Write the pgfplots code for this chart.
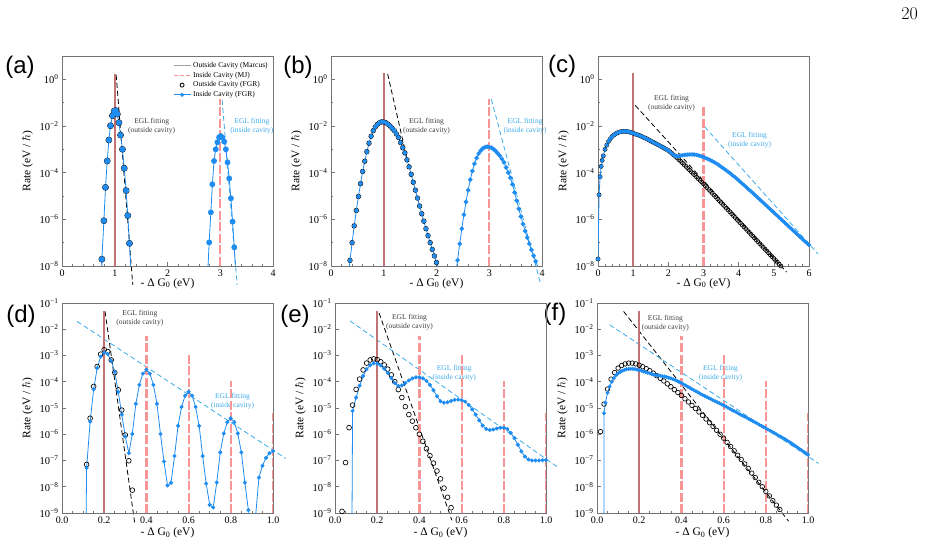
\documentclass[border=0pt]{standalone}
\usepackage{fontspec}
\newfontfamily\tnr{Liberation Serif}
\newfontfamily\hv{Liberation Sans}
\usepackage{pgfplots}
\pgfplotsset{compat=1.18}
\definecolor{fgrblue}{RGB}{30,140,240}
\definecolor{eglblue}{RGB}{60,170,235}
\definecolor{mjpink}{RGB}{248,150,150}
\definecolor{marcusgray}{RGB}{160,160,160}
\definecolor{spikered}{RGB}{195,115,115}
\definecolor{framegray}{RGB}{115,115,115}
\definecolor{txtgray}{RGB}{60,60,60}
\tikzset{
 lblk/.style={align=center, font=\tnr\fontsize{7.5}{8.6}\selectfont, text=txtgray, inner sep=0pt},
 lblb/.style={align=center, font=\tnr\fontsize{7.5}{8.6}\selectfont, text=eglblue, inner sep=0pt},
}
\pgfplotsset{
 panel/.style={scale only axis, width=211pt, height=210pt,
   axis line style={framegray, line width=0.8pt},
   tick style={framegray, line width=0.6pt},
   tick align=inside, xtick pos=bottom, ytick pos=left,
   major tick length=3.5pt, minor tick length=2pt,
   yticklabel style={font=\tnr\fontsize{10.5}{11}\selectfont},
   xticklabel style={font=\tnr\fontsize{10}{11}\selectfont},
   xlabel={- Δ G\textsubscript{0} (eV)},
   ylabel={Rate (eV / $\hbar$)},
   label style={font=\tnr\fontsize{11.5}{12}\selectfont},
 },
 toprow/.style={panel, ymin=-8, ymax=1, ytick={-8,-6,-4,-2,0}, minor ytick={-7,-5,-3,-1},
   yticklabels={10\textsuperscript{−8},10\textsuperscript{−6},10\textsuperscript{−4},10\textsuperscript{−2},10\textsuperscript{0}},
   minor x tick num=4, xlabel style={yshift=5pt}},
 botrow/.style={panel, xmin=0, xmax=1, ymin=-9, ymax=-1, ytick={-9,-8,-7,-6,-5,-4,-3,-2,-1},
   yticklabels={10\textsuperscript{−9},10\textsuperscript{−8},10\textsuperscript{−7},10\textsuperscript{−6},10\textsuperscript{−5},10\textsuperscript{−4},10\textsuperscript{−3},10\textsuperscript{−2},10\textsuperscript{−1}},
   xtick={0,0.2,0.4,0.6,0.8,1}, xticklabels={0.0,0.2,0.4,0.6,0.8,1.0}, minor x tick num=3,
   xlabel style={yshift=2.5pt}},
 over/.style={scale only axis, width=211pt, height=210pt, hide axis, clip=false},
 outfgr/.style={only marks, mark=o, mark size=#1, mark options={line width=0.65pt, draw=black}},
 infgr/.style={color=fgrblue, line width=0.8pt, mark=*, mark size=#1, mark options={fill=fgrblue, draw=fgrblue}},
 spike/.style={color=spikered, line width=2pt},
 mj/.style={color=mjpink, line width=2.2pt, dash pattern=on 9pt off 2.5pt},
 eglk/.style={black, line width=0.8pt, dash pattern=on 5pt off 3pt},
 eglb/.style={eglblue, line width=0.8pt, dash pattern=on 5pt off 3pt},
}
\begin{document}
\begin{tikzpicture}
\path[use as bounding box] (0pt,0pt) rectangle (926pt,-544pt);
\node[font=\fontsize{18}{18}\selectfont] at (909.5pt,-13.3pt) {20};
\node[font=\hv\fontsize{24}{24}\selectfont] at (20pt,-67pt) {(a)};
\node[font=\hv\fontsize{24}{24}\selectfont] at (298pt,-67pt) {(b)};
\node[font=\hv\fontsize{24}{24}\selectfont] at (562pt,-66pt) {(c)};
\node[font=\hv\fontsize{24}{24}\selectfont] at (21pt,-316pt) {(d)};
\node[font=\hv\fontsize{24}{24}\selectfont] at (295pt,-316pt) {(e)};
\node[font=\hv\fontsize{24}{24}\selectfont] at (555pt,-314pt) {(f)};

% ---------------- (a) ----------------
\begin{axis}[over, at={(62pt,-56pt)}, anchor=north west, xmin=0, xmax=4, ymin=-8, ymax=1]
\addplot[eglk] coordinates {(1.027,0.19)(1.342,-8.81)};
\addplot[eglb] coordinates {(3.036,-0.886)(3.32,-8.81)};
\node[lblk] at (axis cs:1.70,-2.0) {EGL fitting\\(outside cavity)};
\node[lblb] at (axis cs:3.60,-2.0) {EGL fitting\\(inside cavity)};
\end{axis}
\begin{axis}[toprow, at={(62pt,-56pt)}, anchor=north west, xmin=0, xmax=4, xtick={0,1,2,3,4}, xticklabels={0,1,2,3,4},
  legend style={at={(0.99,0.985)}, anchor=north east, draw=none, fill=none, font=\tnr\fontsize{7.5}{8}\selectfont, row sep=-1pt, inner sep=1pt},
  legend cell align=left]
\addlegendimage{color=marcusgray, line width=1pt}
\addlegendimage{color=mjpink, line width=1pt, dash pattern=on 4pt off 2pt}
\addlegendimage{only marks, mark=o, mark size=2pt, mark options={line width=0.8pt, draw=black}}
\addlegendimage{color=fgrblue, line width=0.8pt, mark=*, mark size=1.6pt, mark options={fill=fgrblue, draw=fgrblue}}
\legend{Outside Cavity (Marcus), Inside Cavity (MJ), Outside Cavity (FGR), Inside Cavity (FGR)}
\addplot[spike] coordinates {(1,-8)(1,0.21)};
\addplot[mj] coordinates {(3,-8)(3,-0.86)};
\addplot[outfgr=3pt] coordinates {(0.756,-7.71)(0.794,-6.06)(0.825,-4.63)(0.857,-3.5)(0.888,-2.6)(0.920,-1.99)(0.957,-1.56)(0.989,-1.36)(1.020,-1.34)(1.050,-1.49)(1.080,-1.86)(1.110,-2.39)(1.146,-3.0)(1.180,-3.81)(1.216,-4.77)(1.247,-5.84)(1.280,-7.03)};
\addplot[infgr=2.5pt] coordinates {(0.724,-30)(0.756,-7.71)(0.794,-6.06)(0.825,-4.63)(0.857,-3.5)(0.888,-2.6)(0.920,-1.99)(0.957,-1.56)(0.989,-1.36)(1.020,-1.34)(1.050,-1.49)(1.080,-1.86)(1.110,-2.39)(1.146,-3.0)(1.180,-3.81)(1.216,-4.77)(1.247,-5.84)(1.280,-7.03)(1.312,-8.6)(1.344,-12)(2.726,-12)(2.758,-8.5)(2.79,-6.99)(2.822,-5.7)(2.85,-4.5)(2.882,-3.5)(2.914,-3.0)(2.946,-2.7)(2.978,-2.49)(3.01,-2.43)(3.042,-2.5)(3.074,-2.67)(3.106,-3.0)(3.138,-3.56)(3.17,-4.25)(3.202,-5.1)(3.234,-6.1)(3.266,-7.2)(3.298,-8.5)(3.33,-12)};
\end{axis}

% ---------------- (b) ----------------
\begin{axis}[over, at={(331pt,-56pt)}, anchor=north west, xmin=0, xmax=4, ymin=-8, ymax=1]
\addplot[eglk] coordinates {(1.074,0.23)(1.44,-3.4)};
\addplot[eglb] coordinates {(3.04,-0.857)(3.97,-8.74)};
\node[lblk] at (axis cs:1.81,-2.0) {EGL fitting\\(outside cavity)};
\node[lblb] at (axis cs:3.68,-2.0) {EGL fitting\\(inside cavity)};
\end{axis}
\begin{axis}[toprow, at={(331pt,-56pt)}, anchor=north west, xmin=0, xmax=4, xtick={0,1,2,3,4}, xticklabels={0,1,2,3,4}]
\addplot[spike] coordinates {(1,-8)(1,0.26)};
\addplot[mj] coordinates {(3,-8)(3,-0.86)};
\addplot[outfgr=2.3pt] coordinates {(0.36,-7.76)(0.40,-7.0)(0.44,-6.28)(0.48,-5.62)(0.52,-5.02)(0.56,-4.47)(0.60,-3.95)(0.64,-3.51)(0.68,-3.1)(0.72,-2.74)(0.76,-2.44)(0.80,-2.2)(0.84,-2.04)(0.88,-1.93)(0.92,-1.86)(0.96,-1.82)(1.00,-1.83)(1.04,-1.86)(1.08,-1.92)(1.12,-2.0)(1.16,-2.1)(1.20,-2.2)(1.24,-2.34)(1.28,-2.49)(1.32,-2.71)(1.36,-2.93)(1.40,-3.15)(1.44,-3.45)(1.48,-3.75)(1.52,-4.07)(1.56,-4.41)(1.60,-4.75)(1.64,-5.09)(1.68,-5.43)(1.72,-5.76)(1.76,-6.08)(1.80,-6.4)(1.84,-6.7)(1.88,-7.0)(1.92,-7.29)(1.96,-7.57)(2.00,-7.85)(2.04,-8.1)};
\addplot[infgr=1.9pt] coordinates {(0.32,-8.7)(0.36,-7.76)(0.40,-7.0)(0.44,-6.28)(0.48,-5.62)(0.52,-5.02)(0.56,-4.47)(0.60,-3.95)(0.64,-3.51)(0.68,-3.1)(0.72,-2.74)(0.76,-2.44)(0.80,-2.2)(0.84,-2.04)(0.88,-1.93)(0.92,-1.86)(0.96,-1.82)(1.00,-1.83)(1.04,-1.86)(1.08,-1.92)(1.12,-2.0)(1.16,-2.1)(1.20,-2.2)(1.24,-2.34)(1.28,-2.49)(1.32,-2.71)(1.36,-2.93)(1.40,-3.15)(1.44,-3.45)(1.48,-3.75)(1.52,-4.07)(1.56,-4.41)(1.60,-4.75)(1.64,-5.09)(1.68,-5.43)(1.72,-5.76)(1.76,-6.08)(1.80,-6.4)(1.84,-6.7)(1.88,-7.0)(1.92,-7.29)(1.96,-7.57)(2.00,-7.85)(2.04,-8.1)(2.08,-8.4)(2.12,-8.7)(2.16,-12)(2.28,-12)(2.32,-9.1)(2.36,-8.4)(2.40,-7.75)(2.44,-7.05)(2.48,-6.4)(2.52,-5.8)(2.56,-5.25)(2.60,-4.75)(2.64,-4.3)(2.68,-3.93)(2.72,-3.62)(2.76,-3.37)(2.80,-3.18)(2.84,-3.05)(2.88,-2.96)(2.92,-2.91)(2.96,-2.89)(3.00,-2.9)(3.04,-2.93)(3.08,-2.99)(3.12,-3.07)(3.16,-3.17)(3.20,-3.27)(3.24,-3.41)(3.28,-3.56)(3.32,-3.78)(3.36,-4.0)(3.40,-4.22)(3.44,-4.5)(3.48,-4.85)(3.52,-5.2)(3.56,-5.55)(3.60,-5.88)(3.64,-6.2)(3.68,-6.5)(3.72,-6.78)(3.76,-7.05)(3.80,-7.31)(3.84,-7.56)(3.88,-7.8)(3.92,-8.03)(3.96,-8.26)(4.0,-8.5)};
\end{axis}

% ---------------- (c) ----------------
\begin{axis}[over, at={(598pt,-56pt)}, anchor=north west, xmin=0, xmax=6, ymin=-8, ymax=1]
\addplot[eglk] coordinates {(1.06,-1.12)(5.36,-8.26)};
\addplot[eglb] coordinates {(3.03,-2.03)(6.26,-7.49)};
\node[lblk] at (axis cs:2.09,-1.03) {EGL fitting\\(outside cavity)};
\node[lblb] at (axis cs:4.31,-2.6) {EGL fitting\\(inside cavity)};
\end{axis}
\begin{axis}[toprow, at={(598pt,-56pt)}, anchor=north west, xmin=0, xmax=6, xtick={0,1,2,3,4,5,6}, xticklabels={0,1,2,3,4,5,6}]
\addplot[spike] coordinates {(1,-8)(1,0.26)};
\addplot[mj] coordinates {(3,-8)(3,-1.1)};
\addplot[outfgr=2pt] coordinates {(0,-7.7)(0.03,-4.95)(0.06,-4.17)(0.09,-3.73)(0.12,-3.47)(0.15,-3.28)(0.2,-3.0)(0.25,-2.82)(0.3,-2.66)(0.35,-2.55)(0.4,-2.45)(0.45,-2.39)(0.5,-2.33)(0.55,-2.295)(0.6,-2.26)(0.65,-2.245)(0.7,-2.23)(0.75,-2.23)(0.8,-2.23)(0.85,-2.245)(0.9,-2.26)(0.95,-2.285)(1,-2.31)(1.05,-2.34)(1.1,-2.365)(1.15,-2.39)(1.2,-2.42)(1.25,-2.455)(1.3,-2.49)(1.35,-2.525)(1.4,-2.56)(1.45,-2.6)(1.5,-2.64)(1.55,-2.68)(1.6,-2.72)(1.65,-2.76)(1.7,-2.8)(1.75,-2.84)(1.8,-2.88)(1.85,-2.92)(1.9,-2.965)(1.95,-3.01)(2,-3.05)(2.05,-3.11)(2.1,-3.175)(2.15,-3.24)(2.2,-3.3)(2.25,-3.37)(2.3,-3.44)(2.35,-3.51)(2.4,-3.58)(2.45,-3.655)(2.5,-3.73)(2.55,-3.805)(2.6,-3.88)(2.65,-3.955)(2.7,-4.03)(2.75,-4.105)(2.8,-4.18)(2.85,-4.255)(2.9,-4.33)(2.95,-4.405)(3,-4.48)(3.05,-4.56)(3.1,-4.64)(3.15,-4.72)(3.2,-4.8)(3.25,-4.88)(3.3,-4.96)(3.35,-5.04)(3.4,-5.12)(3.45,-5.2)(3.5,-5.28)(3.55,-5.36)(3.6,-5.44)(3.65,-5.52)(3.7,-5.6)(3.75,-5.68)(3.8,-5.76)(3.85,-5.84)(3.9,-5.92)(3.95,-6)(4,-6.08)(4.05,-6.16)(4.1,-6.24)(4.15,-6.32)(4.2,-6.4)(4.25,-6.48)(4.3,-6.56)(4.35,-6.64)(4.4,-6.72)(4.45,-6.8)(4.5,-6.88)(4.55,-6.96)(4.6,-7.04)(4.65,-7.12)(4.7,-7.2)(4.75,-7.28)(4.8,-7.36)(4.85,-7.44)(4.9,-7.52)(4.95,-7.6)(5,-7.68)(5.05,-7.76)(5.1,-7.84)(5.15,-7.92)(5.2,-8)(5.25,-8.08)};
\addplot[infgr=1.7pt] coordinates {(0,-7.7)(0.03,-4.95)(0.06,-4.17)(0.09,-3.73)(0.12,-3.47)(0.15,-3.28)(0.2,-3.0)(0.25,-2.82)(0.3,-2.66)(0.35,-2.55)(0.4,-2.45)(0.45,-2.39)(0.5,-2.33)(0.55,-2.295)(0.6,-2.26)(0.65,-2.245)(0.7,-2.23)(0.75,-2.23)(0.8,-2.23)(0.85,-2.245)(0.9,-2.26)(0.95,-2.285)(1,-2.31)(1.05,-2.34)(1.1,-2.365)(1.15,-2.39)(1.2,-2.42)(1.25,-2.455)(1.3,-2.49)(1.35,-2.525)(1.4,-2.56)(1.45,-2.6)(1.5,-2.64)(1.55,-2.68)(1.6,-2.72)(1.65,-2.76)(1.7,-2.8)(1.75,-2.84)(1.8,-2.88)(1.85,-2.92)(1.9,-2.965)(1.95,-3.01)(2,-3.05)(2.05,-3.11)(2.1,-3.175)(2.15,-3.24)(2.2,-3.29)(2.25,-3.3)(2.3,-3.29)(2.35,-3.27)(2.4,-3.255)(2.45,-3.24)(2.5,-3.23)(2.55,-3.225)(2.6,-3.22)(2.65,-3.22)(2.7,-3.22)(2.75,-3.23)(2.8,-3.24)(2.85,-3.26)(2.9,-3.28)(2.95,-3.305)(3,-3.33)(3.05,-3.365)(3.1,-3.4)(3.15,-3.435)(3.2,-3.47)(3.25,-3.51)(3.3,-3.55)(3.35,-3.595)(3.4,-3.64)(3.45,-3.69)(3.5,-3.745)(3.55,-3.8)(3.6,-3.85)(3.65,-3.91)(3.7,-3.965)(3.75,-4.02)(3.8,-4.08)(3.85,-4.14)(3.9,-4.2)(3.95,-4.265)(4,-4.33)(4.05,-4.4)(4.1,-4.465)(4.15,-4.53)(4.2,-4.6)(4.25,-4.67)(4.3,-4.735)(4.35,-4.8)(4.4,-4.87)(4.45,-4.94)(4.5,-5.01)(4.55,-5.08)(4.6,-5.15)(4.65,-5.22)(4.7,-5.29)(4.75,-5.36)(4.8,-5.43)(4.85,-5.5)(4.9,-5.57)(4.95,-5.64)(5,-5.71)(5.05,-5.78)(5.1,-5.85)(5.15,-5.92)(5.2,-5.99)(5.25,-6.06)(5.3,-6.13)(5.35,-6.2)(5.4,-6.27)(5.45,-6.34)(5.5,-6.41)(5.55,-6.48)(5.6,-6.55)(5.65,-6.62)(5.7,-6.69)(5.75,-6.76)(5.8,-6.83)(5.85,-6.9)(5.9,-6.97)(5.95,-7.03)(6,-7.1)};
\end{axis}

% ---------------- (d) ----------------
\begin{axis}[over, at={(62pt,-303pt)}, anchor=north west, xmin=0, xmax=1, ymin=-9, ymax=-1]
\addplot[eglk] coordinates {(0.204,-1.32)(0.345,-9.41)};
\addplot[eglb] coordinates {(0.071,-1.70)(1.06,-6.92)};
\node[lblk] at (axis cs:0.369,-1.57) {EGL fitting\\(outside cavity)};
\node[lblb] at (axis cs:0.808,-4.73) {EGL fitting\\(inside cavity)};
\end{axis}
\begin{axis}[botrow, at={(62pt,-303pt)}, anchor=north west]
\addplot[spike] coordinates {(0.2,-9)(0.2,-1.32)};
\addplot[mj] coordinates {(0.4,-9)(0.4,-2.25)};
\addplot[mj] coordinates {(0.6,-9)(0.6,-2.89)};
\addplot[mj] coordinates {(0.8,-9)(0.8,-3.96)};
\addplot[mj] coordinates {(1.0,-9)(1.0,-5.2)};
\addplot[outfgr=2.4pt] coordinates {(0.1167,-7.15)(0.1333,-5.39)(0.15,-4.18)(0.1667,-3.42)(0.1833,-2.95)(0.2,-2.78)(0.2167,-2.85)(0.2333,-3.17)(0.25,-3.65)(0.2667,-4.31)(0.2833,-5.08)(0.3,-6.03)(0.3167,-7.01)(0.3333,-8.13)};
\addplot[infgr=1.6pt] coordinates {(0.1,-20)(0.1167,-7.28)(0.1333,-5.52)(0.15,-4.29)(0.1667,-3.48)(0.1833,-3.04)(0.2,-2.89)(0.2167,-2.94)(0.2333,-3.20)(0.25,-3.62)(0.2667,-4.39)(0.2833,-5.25)(0.3,-6.09)(0.3167,-6.72)(0.3333,-5.99)(0.35,-4.84)(0.3667,-4.12)(0.3833,-3.69)(0.4,-3.54)(0.4167,-3.69)(0.4333,-4.12)(0.45,-4.84)(0.4667,-5.99)(0.4833,-7.04)(0.5,-7.95)(0.5167,-7.85)(0.5333,-6.83)(0.55,-5.68)(0.5667,-4.96)(0.5833,-4.53)(0.6,-4.38)(0.6167,-4.53)(0.6333,-4.96)(0.65,-5.68)(0.6667,-6.83)(0.6833,-7.88)(0.7,-8.69)(0.7167,-8.79)(0.7333,-7.84)(0.75,-6.69)(0.7667,-5.97)(0.7833,-5.54)(0.8,-5.39)(0.8167,-5.54)(0.8333,-5.97)(0.85,-6.69)(0.8667,-7.84)(0.8833,-8.89)(0.9,-9.75)(0.9167,-9.2)(0.9333,-7.65)(0.95,-7.2)(0.9667,-6.9)(0.9833,-6.72)(1.0,-6.64)};
\end{axis}

% ---------------- (e) ----------------
\begin{axis}[over, at={(335pt,-303pt)}, anchor=north west, xmin=0, xmax=1, ymin=-9, ymax=-1]
\addplot[eglk] coordinates {(0.209,-1.38)(0.554,-9.28)};
\addplot[eglb] coordinates {(0.071,-1.68)(1.06,-7.28)};
\node[lblk] at (axis cs:0.353,-1.73) {EGL fitting\\(outside cavity)};
\node[lblb] at (axis cs:0.565,-3.68) {EGL fitting\\(inside cavity)};
\end{axis}
\begin{axis}[botrow, at={(335pt,-303pt)}, anchor=north west]
\addplot[spike] coordinates {(0.2,-9)(0.2,-1.32)};
\addplot[mj] coordinates {(0.4,-9)(0.4,-2.25)};
\addplot[mj] coordinates {(0.6,-9)(0.6,-2.89)};
\addplot[mj] coordinates {(0.8,-9)(0.8,-3.96)};
\addplot[mj] coordinates {(1.0,-9)(1.0,-5.2)};
\addplot[outfgr=2.4pt] coordinates {(0.0333,-8.94)(0.05,-7.08)(0.0667,-5.75)(0.0833,-4.89)(0.1,-4.29)(0.1167,-3.9)(0.1333,-3.55)(0.15,-3.29)(0.1667,-3.17)(0.1833,-3.13)(0.2,-3.16)(0.2167,-3.24)(0.2333,-3.36)(0.25,-3.52)(0.2667,-3.74)(0.2833,-4.0)(0.3,-4.3)(0.3167,-4.6)(0.3333,-4.95)(0.35,-5.25)(0.3667,-5.5)(0.3833,-5.75)(0.4,-6.0)(0.4167,-6.27)(0.4333,-6.55)(0.45,-6.82)(0.4667,-7.1)(0.4833,-7.4)(0.5,-7.7)(0.5167,-8.05)(0.5333,-8.4)(0.55,-8.8)(0.5667,-9.2)};
\addplot[infgr=1.6pt] coordinates {(0.0667,-30)(0.0833,-5.11)(0.1,-4.6)(0.1167,-4.15)(0.1333,-3.78)(0.15,-3.52)(0.1667,-3.37)(0.1833,-3.3)(0.2,-3.31)(0.2167,-3.38)(0.2333,-3.5)(0.25,-3.66)(0.2667,-3.86)(0.2833,-4.05)(0.3,-4.16)(0.3167,-4.14)(0.3333,-4.05)(0.35,-3.95)(0.3667,-3.87)(0.3833,-3.83)(0.4,-3.83)(0.4167,-3.87)(0.4333,-3.97)(0.45,-4.12)(0.4667,-4.32)(0.4833,-4.55)(0.5,-4.74)(0.5167,-4.8)(0.5333,-4.78)(0.55,-4.73)(0.5667,-4.69)(0.5833,-4.68)(0.6,-4.7)(0.6167,-4.76)(0.6333,-4.88)(0.65,-5.05)(0.6667,-5.25)(0.6833,-5.47)(0.7,-5.67)(0.7167,-5.8)(0.7333,-5.84)(0.75,-5.82)(0.7667,-5.78)(0.7833,-5.75)(0.8,-5.75)(0.8167,-5.8)(0.8333,-5.95)(0.85,-6.15)(0.8667,-6.4)(0.8833,-6.65)(0.9,-6.85)(0.9167,-6.96)(0.9333,-7.0)(0.95,-7.0)(0.9667,-7.0)(0.9833,-6.99)(1.0,-6.98)};
\end{axis}

% ---------------- (f) ----------------
\begin{axis}[over, at={(597pt,-303pt)}, anchor=north west, xmin=0, xmax=1, ymin=-9, ymax=-1]
\addplot[eglk] coordinates {(0.126,-1.32)(0.908,-9.31)};
\addplot[eglb] coordinates {(0.06,-1.83)(1.05,-7.11)};
\node[lblk] at (axis cs:0.324,-1.76) {EGL fitting\\(outside cavity)};
\node[lblb] at (axis cs:0.585,-3.68) {EGL fitting\\(inside cavity)};
\end{axis}
\begin{axis}[botrow, at={(597pt,-303pt)}, anchor=north west]
\addplot[spike] coordinates {(0.2,-9)(0.2,-1.32)};
\addplot[mj] coordinates {(0.4,-9)(0.4,-2.25)};
\addplot[mj] coordinates {(0.6,-9)(0.6,-2.89)};
\addplot[mj] coordinates {(0.8,-9)(0.8,-3.96)};
\addplot[mj] coordinates {(1.0,-9)(1.0,-5.2)};
\addplot[outfgr=2.3pt] coordinates {(0.0167,-5.9)(0.0333,-4.85)(0.05,-4.28)(0.0667,-3.9)(0.0833,-3.65)(0.1,-3.48)(0.1167,-3.38)(0.1333,-3.32)(0.15,-3.29)(0.1667,-3.29)(0.1833,-3.32)(0.2,-3.37)(0.2167,-3.43)(0.2333,-3.5)(0.25,-3.58)(0.2667,-3.67)(0.2833,-3.77)(0.3,-3.87)(0.3167,-3.97)(0.3333,-4.08)(0.35,-4.19)(0.3667,-4.3)(0.3833,-4.41)(0.4,-4.52)(0.4167,-4.65)(0.4333,-4.77)(0.45,-4.9)(0.4667,-5.02)(0.4833,-5.15)(0.5,-5.28)(0.5167,-5.42)(0.5333,-5.56)(0.55,-5.7)(0.5667,-5.85)(0.5833,-6.0)(0.6,-6.15)(0.6167,-6.31)(0.6333,-6.47)(0.65,-6.63)(0.6667,-6.8)(0.6833,-6.96)(0.7,-7.13)(0.7167,-7.3)(0.7333,-7.48)(0.75,-7.65)(0.7667,-7.83)(0.7833,-8.0)(0.8,-8.18)(0.8167,-8.35)(0.8333,-8.53)(0.85,-8.7)(0.8667,-8.87)(0.8833,-9.03)(0.9,-9.2)};
\addplot[infgr=1.5pt] coordinates {(0.031,-30)(0.033,-5.2)(0.04,-4.8)(0.05,-4.42)(0.06,-4.18)(0.07,-4.0)(0.08,-3.86)(0.09,-3.75)(0.10,-3.68)(0.11,-3.63)(0.12,-3.58)(0.13,-3.55)(0.14,-3.52)(0.15,-3.51)(0.16,-3.51)(0.17,-3.51)(0.18,-3.52)(0.19,-3.54)(0.20,-3.56)(0.21,-3.58)(0.22,-3.61)(0.23,-3.63)(0.24,-3.66)(0.25,-3.68)(0.26,-3.71)(0.27,-3.73)(0.28,-3.75)(0.29,-3.76)(0.30,-3.77)(0.31,-3.79)(0.32,-3.8)(0.33,-3.82)(0.34,-3.85)(0.35,-3.87)(0.36,-3.9)(0.37,-3.93)(0.38,-3.97)(0.39,-4.01)(0.40,-4.05)(0.41,-4.1)(0.42,-4.14)(0.43,-4.19)(0.44,-4.23)(0.45,-4.28)(0.46,-4.32)(0.47,-4.37)(0.48,-4.41)(0.49,-4.46)(0.50,-4.5)(0.51,-4.54)(0.52,-4.58)(0.53,-4.62)(0.54,-4.66)(0.55,-4.7)(0.56,-4.74)(0.57,-4.78)(0.58,-4.82)(0.59,-4.86)(0.60,-4.9)(0.61,-4.94)(0.62,-4.99)(0.63,-5.03)(0.64,-5.08)(0.65,-5.12)(0.66,-5.16)(0.67,-5.21)(0.68,-5.25)(0.69,-5.29)(0.70,-5.33)(0.71,-5.37)(0.72,-5.42)(0.73,-5.46)(0.74,-5.51)(0.75,-5.55)(0.76,-5.59)(0.77,-5.64)(0.78,-5.68)(0.79,-5.73)(0.80,-5.77)(0.81,-5.82)(0.82,-5.86)(0.83,-5.91)(0.84,-5.95)(0.85,-6.0)(0.86,-6.05)(0.87,-6.09)(0.88,-6.14)(0.89,-6.18)(0.90,-6.23)(0.91,-6.28)(0.92,-6.34)(0.93,-6.39)(0.94,-6.45)(0.95,-6.5)(0.96,-6.56)(0.97,-6.61)(0.98,-6.67)(0.99,-6.72)(1.00,-6.78)};
\end{axis}
\end{tikzpicture}
\end{document}
